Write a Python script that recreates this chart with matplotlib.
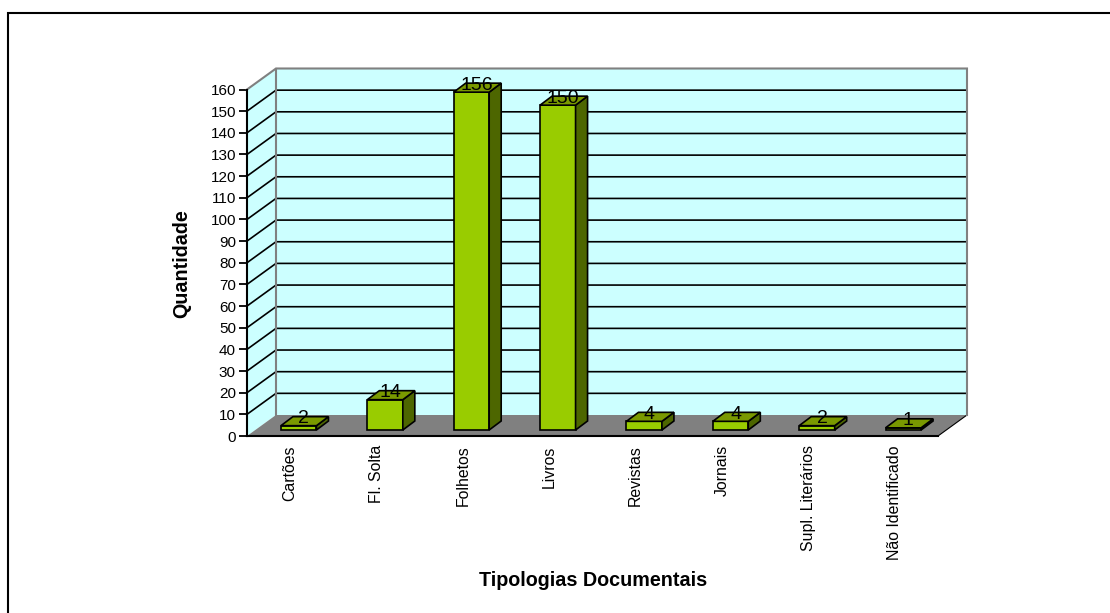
import matplotlib
matplotlib.use('Agg')
import matplotlib.pyplot as plt
from matplotlib.lines import Line2D
from matplotlib.patches import Polygon

categorias = ['Cartões', 'Fl. Solta', 'Folhetos', 'Livros', 'Revistas', 'Jornais', 'Supl. Literários', 'Não Identificado']
quantidade = [2, 14, 156, 150, 4, 4, 2, 1]
y_ticks = list(range(0, 170, 10))

plt.rcParams['font.family'] = ['Liberation Sans', 'DejaVu Sans']

W, H = 1110, 613
fig = plt.figure(figsize=(W / 100, H / 100), dpi=100, facecolor='white')

# outer border: only the top and left sides are inside the picture
fig.add_artist(Line2D([7.5 / W, 7.5 / W, 1], [0, 1 - 13 / H, 1 - 13 / H], color='black', lw=1.5,
                      transform=fig.transFigure, solid_joinstyle='miter'))

# axes = front plane of the 3d box
left, right, top, bottom = 247, 938, 89.5, 436
ax = fig.add_axes([left / W, 1 - bottom / H, (right - left) / W, (bottom - top) / H])
ax.set_xlim(0, 8)
ax.set_ylim(0, 160)
ax.patch.set_visible(False)
for s in ['top', 'right']:
    ax.spines[s].set_visible(False)
ax.spines['left'].set_linewidth(1.5)
ax.spines['bottom'].set_linewidth(1.5)

px = 8 / (right - left)
py = 160 / (bottom - top)
dx, dy = 29 * px, 21 * py   # depth of the box

wall = '#CCFFFF'
ax.add_patch(Polygon([(dx, dy), (8 + dx, dy), (8 + dx, 160 + dy), (dx, 160 + dy)], facecolor=wall,
                     edgecolor='none', clip_on=False, zorder=1))
ax.add_patch(Polygon([(0, 0), (dx, dy), (dx, 160 + dy), (0, 160)], facecolor=wall,
                     edgecolor='none', clip_on=False, zorder=1))
ax.add_patch(Polygon([(0, 0), (8, 0), (8 + dx, dy), (dx, dy)], facecolor='#808080',
                     edgecolor='none', clip_on=False, zorder=1.5))
ax.plot([8, 8 + dx], [0, dy], color='black', lw=0.8, clip_on=False, zorder=1.6)

for v in y_ticks[1:-1]:
    ax.plot([0, dx, 8 + dx], [v, v + dy, v + dy], color='black', lw=1.2, clip_on=False, zorder=2,
            solid_joinstyle='miter')

# gray outline of the walls goes over the grid
ax.plot([0, dx, 8 + dx, 8 + dx], [160, 160 + dy, 160 + dy, dy], color='#808080', lw=1.5, clip_on=False,
        zorder=2.1, solid_joinstyle='miter')
ax.plot([dx, dx], [dy, 160 + dy], color='#808080', lw=1.5, clip_on=False, zorder=2.1)

# bars sit in the middle of the floor depth
bar_w = 35.5 * px
off_x, off_y = 8.5 * px, 6 * py
d_x, d_y = 12 * px, 9 * py
for i, v in enumerate(quantidade):
    x0 = i + 0.5 - bar_w / 2 + off_x
    x1 = x0 + bar_w
    y0 = off_y
    y1 = off_y + v
    ax.bar(x0, v, width=bar_w, bottom=y0, align='edge', color='#99CC00', edgecolor='black',
           linewidth=1.2, zorder=3, clip_on=False)
    ax.add_patch(Polygon([(x1, y0), (x1 + d_x, y0 + d_y), (x1 + d_x, y1 + d_y), (x1, y1)],
                         facecolor='#4D6600', edgecolor='black', linewidth=1.2, zorder=3, clip_on=False))
    ax.add_patch(Polygon([(x0, y1), (x1, y1), (x1 + d_x, y1 + d_y), (x0 + d_x, y1 + d_y)],
                         facecolor='#7A9900', edgecolor='black', linewidth=1.2, zorder=3, clip_on=False))
    ax.text(i + 0.5 + off_x + 5 * px, y1 + 7 * py, str(v), ha='center', va='center',
            fontsize=14, color='black', zorder=4, clip_on=False)

ax.set_yticks(y_ticks)
ax.set_xticks([i + 0.5 for i in range(len(categorias))])
ax.set_xticklabels(categorias, rotation=90, ha='center', va='top', fontsize=11.4)
ax.tick_params(axis='y', labelsize=11, length=6, width=1.3, pad=2)
ax.tick_params(axis='x', length=0, pad=6.6)

fig.text(182 / W, 1 - 264 / H, 'Quantidade', rotation=90, ha='center', va='center',
         fontsize=14.2, fontweight='bold')
fig.text(593 / W, 1 - 580 / H, 'Tipologias Documentais', ha='center', va='center',
         fontsize=14.2, fontweight='bold')

fig.savefig('out.png', dpi=100)
